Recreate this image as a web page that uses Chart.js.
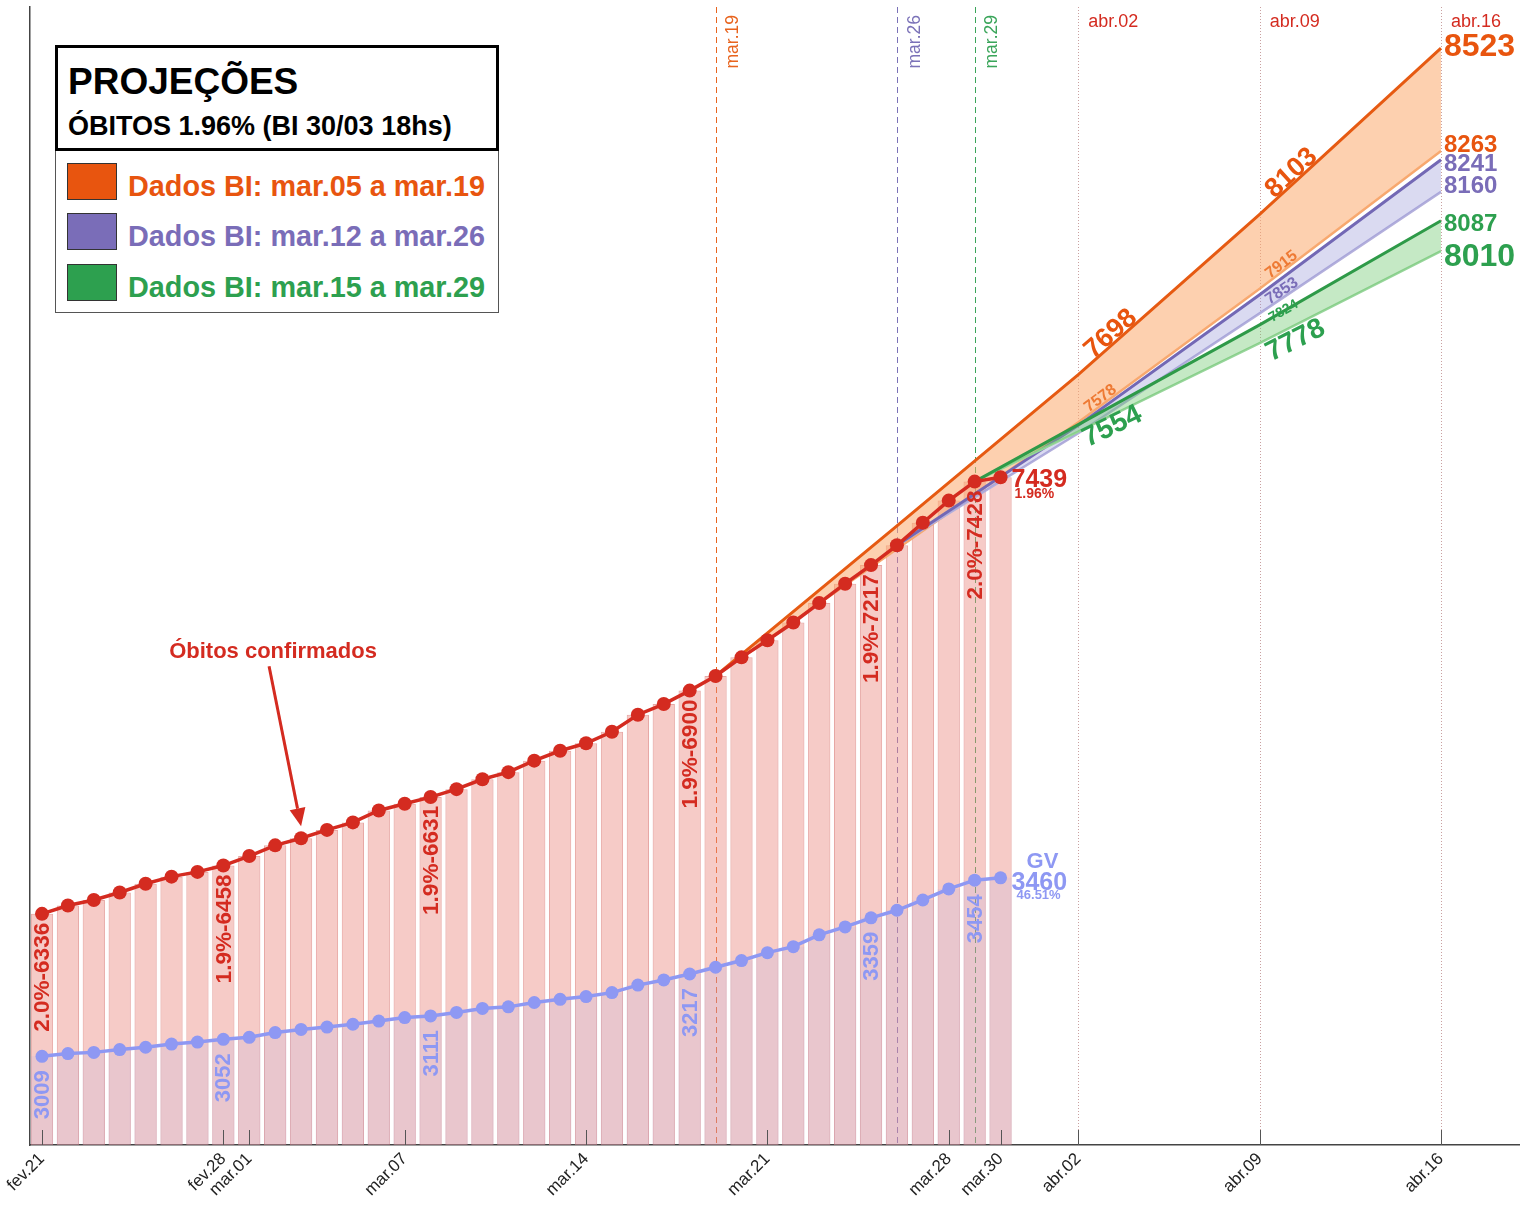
<!DOCTYPE html>
<html lang="pt-BR">
<head>
<meta charset="utf-8">
<title>Projeções - Óbitos</title>
<script src="https://cdn.jsdelivr.net/npm/chart.js@4.4.1/dist/chart.umd.min.js"></script>
<style>
  html, body { margin: 0; padding: 0; background: #fff; overflow: hidden; }
  body { width: 1520px; height: 1205px; position: relative;
         font-family: "Liberation Sans", Helvetica, Arial, sans-serif; }
  #chart { position: absolute; left: 0; top: 0; }
  .legend { position: absolute; left: 55px; top: 45px; width: 444px; height: 268px;
            border: 1px solid #555; background: #fff; box-sizing: border-box; }
  .legend .head { position: absolute; left: -1px; top: -1px; width: 444px; height: 106px;
                  border: 3px solid #000; box-sizing: border-box; }
  .legend .t1 { position: absolute; left: 10px; top: 15px; font-size: 37px; line-height: 37px; font-weight: bold; color: #000; }
  .legend .t2 { position: absolute; left: 10px; top: 65px; font-size: 27px; line-height: 26px; font-weight: bold; color: #000; }
  .legend .item { position: absolute; left: 11px; height: 37px; }
  .legend .sw { position: absolute; left: 0; top: 0; width: 50px; height: 37px; border: 1px solid #333; box-sizing: border-box; }
  .legend .lb { position: absolute; left: 61px; top: 8px; font-size: 28.8px; line-height: 30px; font-weight: bold; white-space: nowrap; }
</style>
</head>
<body>
<canvas id="chart" width="1527" height="1205"></canvas>
<div class="legend">
  <div class="head">
    <div class="t1">PROJEÇÕES</div>
    <div class="t2">ÓBITOS 1.96% (BI 30/03 18hs)</div>
  </div>
  <div class="item" style="top:117px"><div class="sw" style="background:#E8550F"></div><div class="lb" style="color:#E8550F">Dados BI: mar.05 a mar.19</div></div>
  <div class="item" style="top:167px"><div class="sw" style="background:#7A6DB8"></div><div class="lb" style="color:#7A6DB8">Dados BI: mar.12 a mar.26</div></div>
  <div class="item" style="top:218px"><div class="sw" style="background:#2DA04F"></div><div class="lb" style="color:#2DA04F">Dados BI: mar.15 a mar.29</div></div>
</div>
<script>
// dias contados a partir de fev.21 (2021)
const days = [];
for (let i = 0; i <= 37; i++) days.push(i);

// óbitos confirmados (eixo da esquerda)
const deaths = [6336, 6357, 6371, 6390, 6412, 6430, 6442, 6458,
  6482, 6509, 6527, 6548, 6567, 6597, 6614, 6631, 6651, 6676, 6694, 6723,
  6748, 6767, 6796, 6839, 6866, 6900, 6937, 6984, 7027, 7072, 7121, 7170,
  7217, 7267, 7324, 7380, 7428, 7439];

// óbitos GV (segundo eixo)
const gvDeaths = [3009, 3016, 3019, 3026, 3032, 3040, 3045, 3052,
  3057, 3069, 3077, 3083, 3090, 3098, 3107, 3111, 3120, 3130, 3134, 3145,
  3153, 3160, 3170, 3189, 3202, 3217, 3234, 3251, 3271, 3286, 3316, 3336,
  3359, 3378, 3404, 3432, 3454, 3460];

// indices com rótulo vertical e letalidade
const labelIdx = [0, 7, 15, 25, 32, 36];
const labelPct = ['2.0%', '1.9%', '1.9%', '1.9%', '1.9%', '2.0%'];

// projeções: [dia, valor]
const orangeHigh = [[26, 6937], [33, 7316], [40, 7698], [47, 8103], [54, 8523]];
const orangeLow  = [[26, 6937], [33, 7258], [40, 7578], [47, 7915], [54, 8263]];
const purpleHigh = [[33, 7267], [40, 7570], [47, 7900], [54, 8241]];
const purpleLow  = [[33, 7267], [40, 7550], [47, 7853], [54, 8160]];
const greenHigh  = [[36, 7428], [40, 7572], [47, 7824], [54, 8087]];
const greenLow   = [[36, 7428], [40, 7554], [47, 7778], [54, 8010]];

// eixo x
const tickDays   = [0, 7, 8, 14, 21, 28, 35, 37, 40, 47, 54];
const tickLabels = ['fev.21', 'fev.28', 'mar.01', 'mar.07', 'mar.14', 'mar.21', 'mar.28', 'mar.30', 'abr.02', 'abr.09', 'abr.16'];

// linhas verticais
const markerDays   = [26, 33, 36];
const markerLabels = ['mar.19', 'mar.26', 'mar.29'];
const markerColors = ['#E8641E', '#7B72B8', '#3AA55A'];
const futureDays   = [40, 47, 54];
const futureLabels = ['abr.02', 'abr.09', 'abr.16'];

const RED = '#D42B20';
const BLUE = '#8E98F3';
const FONT = '"Liberation Sans", Helvetica, Arial, sans-serif';

const toXY = arr => arr.map(p => ({ x: p[0], y: p[1] }));

function lineDs(arr, color, width, fillColor, order) {
  return {
    type: 'line',
    data: toXY(arr),
    borderColor: color,
    borderWidth: width,
    pointRadius: 0,
    fill: fillColor ? '+1' : false,
    backgroundColor: fillColor || 'transparent',
    yAxisID: 'y',
    order: order
  };
}

function angleAt(chart, arr, day) {
  const sx = chart.scales.x, sy = chart.scales.y;
  let i = arr.findIndex(p => p[0] === day);
  let j = i + 1;
  if (j >= arr.length) { j = i; i = i - 1; }
  const dx = sx.getPixelForValue(arr[j][0]) - sx.getPixelForValue(arr[i][0]);
  const dy = sy.getPixelForValue(arr[j][1]) - sy.getPixelForValue(arr[i][1]);
  return Math.atan2(dy, dx);
}

function valueAt(arr, day) {
  return arr.find(p => p[0] === day)[1];
}

const lineLabels = [
  { arr: orangeHigh, day: 40, size: 27, color: '#E8550F', base: 'alphabetic', dy: -2, along: 20 },
  { arr: orangeHigh, day: 47, size: 27, color: '#E8550F', base: 'alphabetic', dy: -2, along: 20 },
  { arr: orangeLow, day: 40, size: 16, color: '#EE7A34', base: 'alphabetic', dy: -2, along: 13 },
  { arr: orangeLow, day: 47, size: 16, color: '#EE7A34', base: 'alphabetic', dy: -2, along: 13 },
  { arr: purpleLow, day: 47, size: 16, color: '#7A6DB8', base: 'alphabetic', dy: -2, along: 12 },
  { arr: greenHigh, day: 47, size: 14, color: '#2DA04F', base: 'middle', dy: 0, along: 12 },
  { arr: greenLow, day: 47, size: 28, color: '#2DA04F', base: 'top', dy: 0, along: 2 },
  { arr: greenLow, day: 40, size: 28, color: '#2DA04F', base: 'top', dy: -4, along: 0 }
];

const endLabels = [
  { arr: orangeHigh, size: 32, color: '#E8550F', dy: -1 },
  { arr: orangeLow, size: 24, color: '#E8550F', dy: -6 },
  { arr: purpleHigh, size: 24, color: '#7A6DB8', dy: 5 },
  { arr: purpleLow, size: 24, color: '#7A6DB8', dy: -5 },
  { arr: greenHigh, size: 24, color: '#2DA04F', dy: 4 },
  { arr: greenLow, size: 32, color: '#2DA04F', dy: 6 }
];

const overlay = {
  id: 'overlay',
  beforeDatasetsDraw(chart) {
    const { ctx, chartArea: a, scales: { x } } = chart;
    ctx.save();
    ctx.lineWidth = 1;
    markerDays.forEach((d, i) => {
      const px = Math.round(x.getPixelForValue(d)) + 0.5;
      ctx.strokeStyle = markerColors[i];
      ctx.setLineDash([6, 4]);
      ctx.beginPath(); ctx.moveTo(px, a.top); ctx.lineTo(px, a.bottom); ctx.stroke();
    });
    futureDays.forEach(d => {
      const px = Math.round(x.getPixelForValue(d)) + 0.5;
      ctx.strokeStyle = '#c9a0a0';
      ctx.setLineDash([1, 2]);
      ctx.beginPath(); ctx.moveTo(px, a.top); ctx.lineTo(px, a.bottom); ctx.stroke();
    });
    ctx.restore();
  },
  afterDatasetsDraw(chart) {
    const { ctx, chartArea: a, scales: { x, y, y2 } } = chart;
    ctx.save();

    // ticks para dentro
    ctx.strokeStyle = '#555';
    ctx.lineWidth = 1;
    tickDays.forEach(d => {
      const px = Math.round(x.getPixelForValue(d)) + 0.5;
      ctx.beginPath(); ctx.moveTo(px, a.bottom); ctx.lineTo(px, a.bottom - 15); ctx.stroke();
    });

    // rótulos das linhas verticais
    ctx.font = '17.5px ' + FONT;
    markerDays.forEach((d, i) => {
      ctx.save();
      ctx.translate(x.getPixelForValue(d) + 18, a.top + 8);
      ctx.rotate(-Math.PI / 2);
      ctx.fillStyle = markerColors[i];
      ctx.textAlign = 'right';
      ctx.textBaseline = 'middle';
      ctx.fillText(markerLabels[i], 0, 0);
      ctx.restore();
    });
    ctx.fillStyle = RED;
    ctx.textAlign = 'left';
    ctx.textBaseline = 'middle';
    ctx.font = '18px ' + FONT;
    futureDays.forEach((d, i) => {
      ctx.fillText(futureLabels[i], x.getPixelForValue(d) + 10, 22);
    });

    // rótulos verticais dos dados
    labelIdx.forEach((idx, k) => {
      const px = x.getPixelForValue(days[idx]);
      ctx.save();
      ctx.translate(px + 1, y.getPixelForValue(deaths[idx]) + 9);
      ctx.rotate(-Math.PI / 2);
      ctx.font = 'bold 22.5px ' + FONT;
      ctx.fillStyle = RED;
      ctx.textAlign = 'right';
      ctx.textBaseline = 'middle';
      ctx.fillText(labelPct[k] + '-' + deaths[idx], 0, 0);
      ctx.restore();

      ctx.save();
      ctx.translate(px + 1, y2.getPixelForValue(gvDeaths[idx]) + 14);
      ctx.rotate(-Math.PI / 2);
      ctx.font = 'bold 22px ' + FONT;
      ctx.fillStyle = BLUE;
      ctx.textAlign = 'right';
      ctx.textBaseline = 'middle';
      ctx.fillText(String(gvDeaths[idx]), 0, 0);
      ctx.restore();
    });

    // último ponto
    const last = days.length - 1;
    const lx = x.getPixelForValue(days[last]) + 11;
    const ly = y.getPixelForValue(deaths[last]);
    ctx.textAlign = 'left';
    ctx.textBaseline = 'middle';
    ctx.fillStyle = RED;
    ctx.font = 'bold 25px ' + FONT;
    ctx.fillText(String(deaths[last]), lx, ly + 3);
    ctx.font = 'bold 14px ' + FONT;
    ctx.fillText('1.96%', lx + 3, ly + 17);

    const gy = y2.getPixelForValue(gvDeaths[last]);
    ctx.fillStyle = BLUE;
    ctx.font = 'bold 22px ' + FONT;
    ctx.fillText('GV', lx + 15, gy - 16);
    ctx.font = 'bold 25px ' + FONT;
    ctx.fillText(String(gvDeaths[last]), lx, gy + 5);
    ctx.font = 'bold 13px ' + FONT;
    ctx.fillText('46.51%', lx + 5, gy + 18);

    // rótulos ao longo das projeções
    lineLabels.forEach(l => {
      const v = valueAt(l.arr, l.day);
      const ang = angleAt(chart, l.arr, l.day);
      ctx.save();
      ctx.translate(x.getPixelForValue(l.day) + l.along * Math.cos(ang),
                    y.getPixelForValue(v) + l.along * Math.sin(ang) + l.dy);
      ctx.rotate(ang);
      ctx.font = 'bold ' + l.size + 'px ' + FONT;
      ctx.fillStyle = l.color;
      ctx.textAlign = 'left';
      ctx.textBaseline = l.base;
      ctx.fillText(String(v), 0, 0);
      ctx.restore();
    });

    // valores finais
    endLabels.forEach(l => {
      const p = l.arr[l.arr.length - 1];
      ctx.font = 'bold ' + l.size + 'px ' + FONT;
      ctx.fillStyle = l.color;
      ctx.textAlign = 'left';
      ctx.textBaseline = 'middle';
      ctx.fillText(String(p[1]), x.getPixelForValue(p[0]) + 3, y.getPixelForValue(p[1]) + l.dy);
    });

    // anotação com seta
    const tx = x.getPixelForValue(days[10]);
    const ty = y.getPixelForValue(deaths[10]) - 12;
    const sx = tx - 32, sy = ty - 160;
    ctx.strokeStyle = RED;
    ctx.fillStyle = RED;
    ctx.lineWidth = 3;
    const ang = Math.atan2(ty - sy, tx - sx);
    const hx = tx - 18 * Math.cos(ang), hy = ty - 18 * Math.sin(ang);
    ctx.beginPath(); ctx.moveTo(sx, sy); ctx.lineTo(hx, hy); ctx.stroke();
    ctx.beginPath();
    ctx.moveTo(tx, ty);
    ctx.lineTo(hx + 8 * Math.sin(ang), hy - 8 * Math.cos(ang));
    ctx.lineTo(hx - 8 * Math.sin(ang), hy + 8 * Math.cos(ang));
    ctx.closePath(); ctx.fill();
    ctx.font = 'bold 22px ' + FONT;
    ctx.textAlign = 'center';
    ctx.textBaseline = 'middle';
    ctx.fillText('Óbitos confirmados', sx + 4, sy - 14);

    ctx.restore();
  }
};

const ctx = document.getElementById('chart').getContext('2d');
new Chart(ctx, {
  type: 'line',
  data: {
    datasets: [
      {
        type: 'line', label: 'Óbitos', data: days.map((d, i) => ({ x: d, y: deaths[i] })),
        borderColor: RED, borderWidth: 3.5, pointRadius: 7, pointBackgroundColor: RED,
        pointBorderWidth: 0, yAxisID: 'y', order: 1
      },
      {
        type: 'line', label: 'GV', data: days.map((d, i) => ({ x: d, y: gvDeaths[i] })),
        borderColor: BLUE, borderWidth: 3.5, pointRadius: 6.5, pointBackgroundColor: BLUE,
        pointBorderWidth: 0, yAxisID: 'y2', order: 2
      },
      lineDs(greenHigh, '#2E9A48', 3, 'rgba(110,200,110,0.4)', 3),
      lineDs(greenLow, '#98D59B', 2.5, null, 4),
      lineDs(purpleHigh, '#7368B5', 3, 'rgba(150,150,215,0.35)', 5),
      lineDs(purpleLow, '#B4B0DC', 2.5, null, 6),
      lineDs(orangeHigh, '#E65A12', 3, 'rgba(252,170,110,0.55)', 7),
      lineDs(orangeLow, '#F6A870', 2.5, null, 8),
      {
        type: 'bar', label: 'barras GV', data: days.map((d, i) => ({ x: d, y: gvDeaths[i] })),
        backgroundColor: 'rgba(150,160,240,0.14)', borderWidth: 0, grouped: false,
        barPercentage: 0.86, categoryPercentage: 1, yAxisID: 'y2', order: 19
      },
      {
        type: 'bar', label: 'barras', data: days.map((d, i) => ({ x: d, y: deaths[i] })),
        backgroundColor: 'rgba(235,140,130,0.45)', borderColor: 'rgba(215,110,105,0.6)',
        borderWidth: 1, grouped: false,
        barPercentage: 0.86, categoryPercentage: 1, yAxisID: 'y', order: 20
      }
    ]
  },
  options: {
    responsive: false,
    animation: false,
    devicePixelRatio: 1,
    layout: { padding: { left: 30, top: 7, right: 0, bottom: 0 } },
    plugins: { legend: { display: false }, tooltip: { enabled: false } },
    scales: {
      x: {
        type: 'linear', min: -0.463, max: 57.05, offset: false,
        afterBuildTicks: s => { s.ticks = tickDays.map(v => ({ value: v })); },
        afterFit: s => { s.height = 60; s.paddingLeft = 0; s.paddingRight = 0; },
        ticks: {
          autoSkip: false, minRotation: 45, maxRotation: 45, padding: 4,
          color: '#222', font: { size: 17, family: FONT },
          callback: v => tickLabels[tickDays.indexOf(v)]
        },
        grid: { display: false, drawTicks: false },
        border: { display: true, color: '#444', width: 1.5 }
      },
      y: {
        type: 'linear', position: 'left', min: 5752, max: 8627,
        afterFit: s => { s.width = 0; },
        ticks: { display: false },
        grid: { display: false, drawTicks: false },
        border: { display: true, color: '#444', width: 1.5 }
      },
      y2: {
        type: 'linear', position: 'right', min: 2785, max: 5660, display: false
      }
    }
  },
  plugins: [overlay]
});
</script>
</body>
</html>
